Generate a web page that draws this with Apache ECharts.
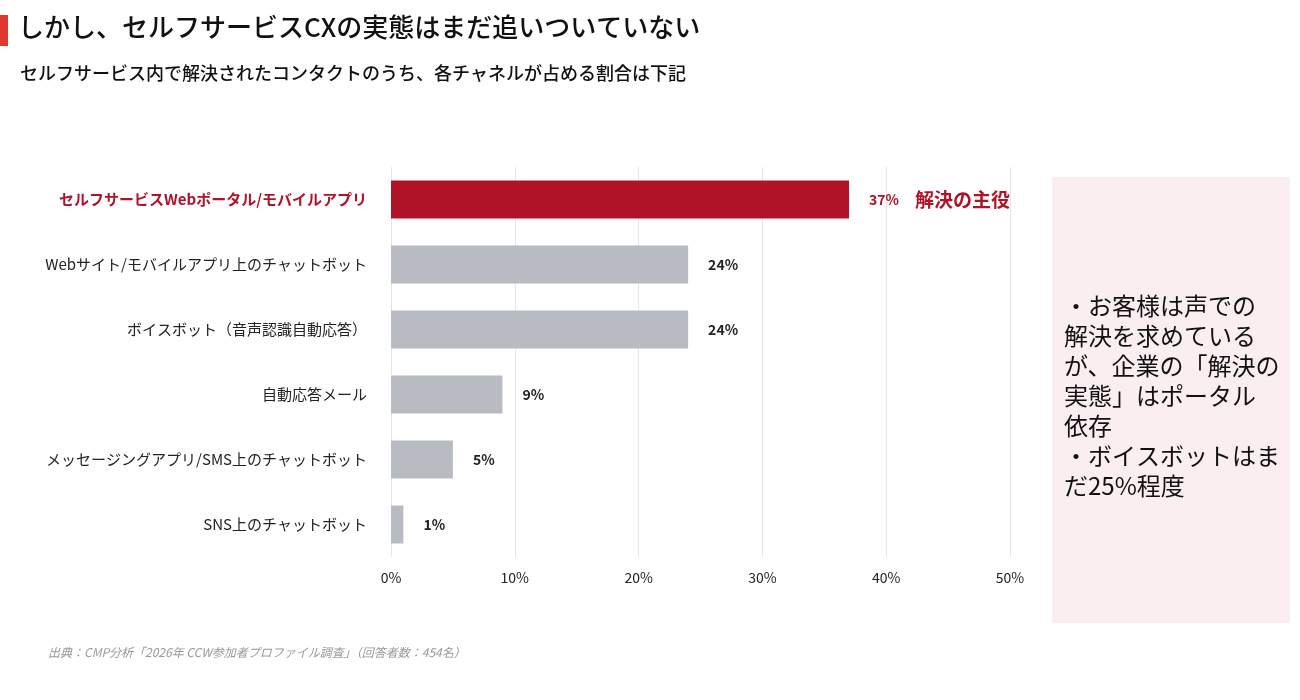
<!DOCTYPE html><html><head><meta charset="utf-8"><script src="https://cdn.jsdelivr.net/npm/echarts@6/dist/echarts.min.js"></script>
<style>body{margin:0}#c{width:1300px;height:700px}</style></head><body><div id="c"></div><script>
const categories=["セルフサービスWebポータル/モバイルアプリ","Webサイト/モバイルアプリ上のチャットボット","ボイスボット（音声認識自動応答）","自動応答メール","メッセージングアプリ/SMS上のチャットボット","SNS上のチャットボット"];
const values=[37,24,24,9,5,1];
const F='"Noto Sans CJK JP","Noto Sans",sans-serif';
const c=echarts.init(document.getElementById('c'));
c.setOption({
animation:false,
textStyle:{fontFamily:F},
grid:{left:391,right:290,top:167,bottom:143},
xAxis:{type:'value',min:0,max:50,interval:10,axisLabel:{formatter:'{value}%',color:'#222',fontSize:14,margin:14},splitLine:{lineStyle:{color:'#e6e6e6'}},axisLine:{show:false},axisTick:{show:false}},
yAxis:{type:'category',inverse:true,data:categories,axisLine:{show:false},axisTick:{show:false},
 axisLabel:{margin:24,fontSize:15,color:'#222',formatter:(v,i)=>i===0?'{r|'+v+'}':v,rich:{r:{color:'#b01328',fontWeight:'bold',fontSize:15}}}},
series:[{type:'bar',barWidth:38,
 data:values.map((v,i)=>({value:v,itemStyle:{color:i===0?'#b01328':'#b8bbc2'},
  label:i===0?{formatter:'{a|{c}%}     {b|解決の主役}',rich:{a:{color:'#b01328',fontWeight:'bold',fontSize:14},b:{color:'#b01328',fontWeight:'bold',fontSize:19}}}:{}})),
 label:{show:true,position:'right',distance:20,formatter:'{c}%',fontWeight:'bold',fontSize:14,color:'#222'}}],
graphic:[
 {type:'rect',shape:{x:0,y:15,width:8,height:31},style:{fill:'#e0382e'}},
 {type:'text',x:18,y:14,style:{text:'しかし、セルフサービスCXの実態はまだ追いついていない',font:'500 26px '+F,fill:'#111'}},
 {type:'text',x:20,y:64,style:{text:'セルフサービス内で解決されたコンタクトのうち、各チャネルが占める割合は下記',font:'500 18px '+F,fill:'#111'}},
 {type:'rect',shape:{x:1052,y:177,width:238,height:446},style:{fill:'#faeef0'}},
 {type:'text',x:1064,y:291,style:{text:'・お客様は声での\n解決を求めている\nが、企業の「解決の\n実態」はポータル\n依存\n・ボイスボットはま\nだ25%程度',font:'24px '+F,lineHeight:30,fill:'#111'}},
 {type:'text',x:48,y:646,style:{text:'出典：CMP分析「2026年 CCW参加者プロファイル調査」（回答者数：454名）',font:'italic 12px '+F,fill:'#999'}}
]});
</script></body></html>
